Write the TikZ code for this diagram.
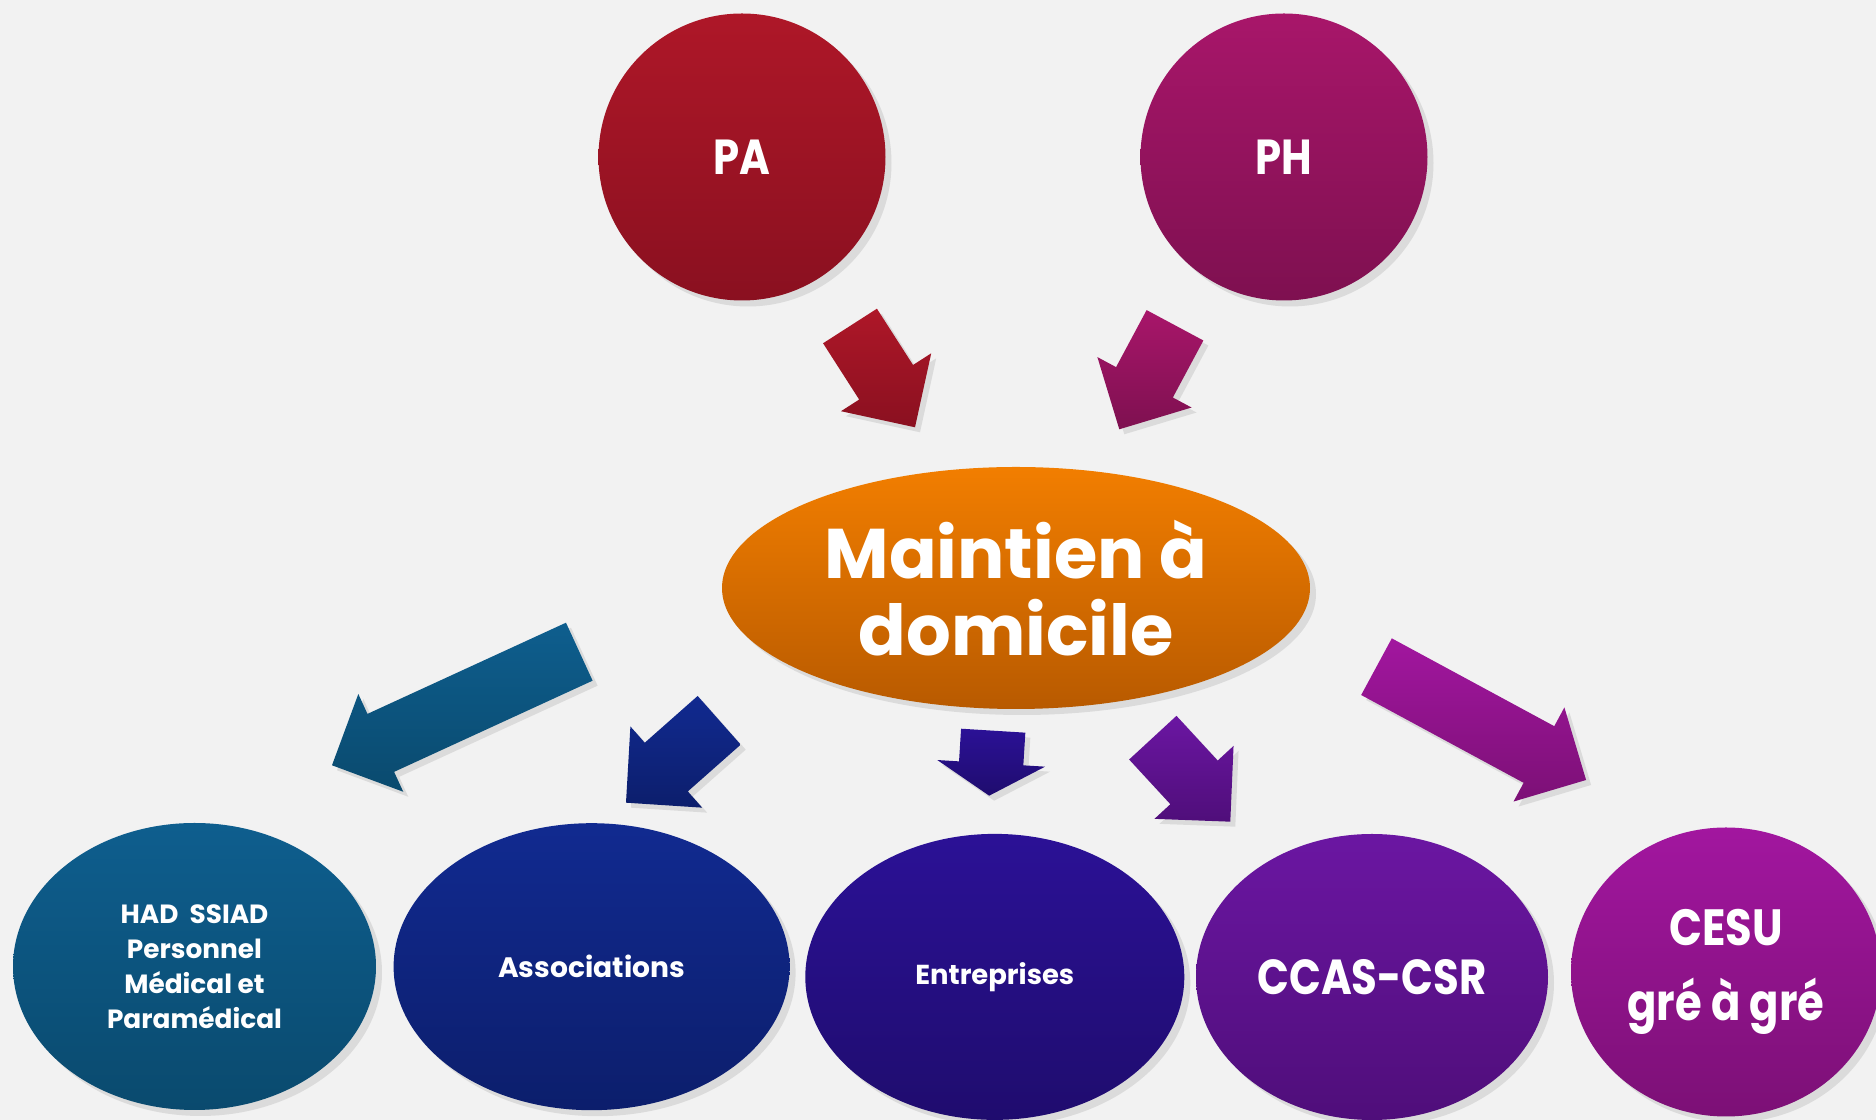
\documentclass[tikz,border=0pt]{standalone}
\usepackage{fontspec}
\setmainfont{Poppins}
\newfontfamily\narrowfont{Poppins}[FakeStretch=0.85]
\usetikzlibrary{calc,shapes.geometric,shadows}
\definecolor{bgcol}{HTML}{F2F2F2}
\definecolor{patop}{HTML}{AE1728}\definecolor{pabot}{HTML}{8A1020}
\definecolor{phtop}{HTML}{A8166A}\definecolor{phbot}{HTML}{7E1050}
\definecolor{mdtop}{HTML}{F27E00}\definecolor{mdbot}{HTML}{B85A00}
\definecolor{hdtop}{HTML}{0E5E8E}\definecolor{hdbot}{HTML}{0A4A6E}
\definecolor{astop}{HTML}{112A90}\definecolor{asbot}{HTML}{0C1E6C}
\definecolor{entop}{HTML}{2B1196}\definecolor{enbot}{HTML}{1F0C6E}
\definecolor{cctop}{HTML}{6B16A2}\definecolor{ccbot}{HTML}{4F0E7A}
\definecolor{cetop}{HTML}{A2169F}\definecolor{cebot}{HTML}{7C1076}
\def\blockarrow[#1](#2)(#3)(#4:#5:#6){\coordinate (#2-base) at ($(#3)!#6!(#2)$);
\path[#1] ($(#2)!#4!90:(#3)$) -- ($(#2-base)!#4!90:(#3)$) -- ($(#2-base)!#5!90:(#3)$) -- (#3) -- ($(#2-base)!#5!-90:(#3)$) -- ($(#2-base)!#4!-90:(#3)$) -- ($(#2)!#4!-90:(#3)$) -- cycle;}
\tikzset{
  bubble/.style={ellipse, inner sep=0pt, text=white, align=center,
    drop shadow={opacity=0.2, shadow xshift=0.6mm, shadow yshift=-0.6mm}},
  fatarrow/.style={drop shadow={opacity=0.2, shadow xshift=0.5mm, shadow yshift=-0.5mm}}
}

\begin{document}
\begin{tikzpicture}[x=0.1mm, y=-0.1mm]
			%%%%% START %%%%%
			
			\fill[bgcol] (0, 0) rectangle (1876, 1120);
			\useasboundingbox (0, 0) rectangle (1876, 1120);
			
			\node[bubble, circle, minimum size=28.7mm, top color=patop, bottom color=pabot, font=\narrowfont\bfseries\fontsize{14}{16}\selectfont] (pa) at (742, 157) {PA};
			\node[bubble, circle, minimum size=28.7mm, top color=phtop, bottom color=phbot, font=\narrowfont\bfseries\fontsize{14}{16}\selectfont] (ph) at (1284, 157) {PH};
			
			\node[bubble, minimum width=58.8mm, minimum height=24.2mm, top color=mdtop, bottom color=mdbot, font=\bfseries\fontsize{20}{22}\selectfont] (maintien) at (1016, 588) {Maintien à\\domicile};
			
			\node[bubble, minimum width=36.3mm, minimum height=28.7mm, top color=hdtop, bottom color=hdbot, font=\bfseries\fontsize{7.5}{10}\selectfont] (had) at (194.5, 966.5) {HAD\ \ SSIAD\\Personnel\\Médical et\\Paramédical};
			\node[bubble, minimum width=39.6mm, minimum height=28.7mm, top color=astop, bottom color=asbot, font=\bfseries\fontsize{8}{9}\selectfont] (assoc) at (591.6, 966.7) {Associations};
			\node[bubble, minimum width=37.9mm, minimum height=28.6mm, top color=entop, bottom color=enbot, font=\bfseries\fontsize{7.8}{9}\selectfont] (entr) at (994.8, 976.9) {Entreprises};
			\node[bubble, minimum width=35.2mm, minimum height=28.6mm, top color=cctop, bottom color=ccbot, font=\narrowfont\bfseries\fontsize{14}{15}\selectfont] (ccas) at (1372, 977) {CCAS-CSR};
			\node[bubble, minimum width=31mm, minimum height=28.9mm, top color=cetop, bottom color=cebot, font=\narrowfont\bfseries\fontsize{14.5}{21.5}\selectfont] (cesu) at (1726, 972) {CESU\\gré à gré};
			
			% arrows: tail and tip of each
			\coordinate (a1) at (850, 326);   \coordinate (a1-tip) at (915, 427.3);
			\coordinate (a2) at (1175, 325.3); \coordinate (a2-tip) at (1119.3, 429.3);
			\coordinate (a3) at (579.3, 651.7); \coordinate (a3-tip) at (332, 765.3);
			\coordinate (a4) at (719.2, 720.3); \coordinate (a4-tip) at (626, 802.7);
			\coordinate (a5) at (993.2, 730.7); \coordinate (a5-tip) at (989.2, 795.7);
			\coordinate (a6) at (1152.8, 737.7); \coordinate (a6-tip) at (1230.3, 821.7);
			\coordinate (a7) at (1376.5, 666.7); \coordinate (a7-tip) at (1586.1, 780);
			
			\blockarrow[fatarrow, top color=patop, bottom color=pabot](a1)(a1-tip)(3.2mm:5.36mm:5.35mm)
			\blockarrow[fatarrow, top color=phtop, bottom color=phbot](a2)(a2-tip)(3.22mm:5.34mm:5.33mm)
			\blockarrow[fatarrow, top color=hdtop, bottom color=hdbot](a3)(a3-tip)(3.19mm:5.38mm:5.37mm)
			\blockarrow[fatarrow, top color=astop, bottom color=asbot](a4)(a4-tip)(3.25mm:5.42mm:5.38mm)
			\blockarrow[fatarrow, top color=entop, bottom color=enbot](a5)(a5-tip)(3.22mm:5.4mm:3.24mm)
			\blockarrow[fatarrow, top color=cctop, bottom color=ccbot](a6)(a6-tip)(3.22mm:5.38mm:5.35mm)
			\blockarrow[fatarrow, top color=cetop, bottom color=cebot](a7)(a7-tip)(3.22mm:5.35mm:5.36mm)
			
			%%%%% END %%%%%
		\end{tikzpicture}
\end{document}
